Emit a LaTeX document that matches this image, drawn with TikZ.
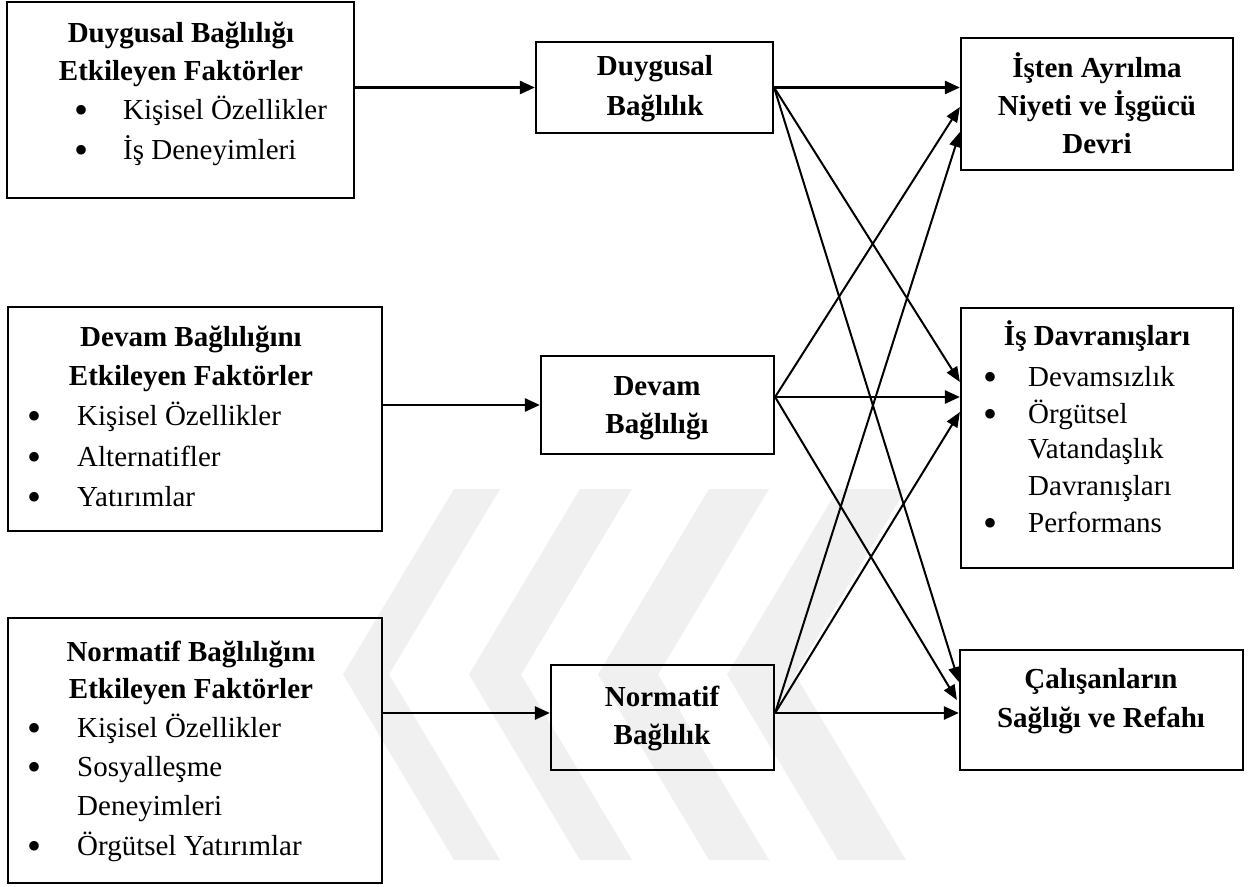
\documentclass[tikz,border=0pt]{standalone}
\usepackage{fontspec}
\setmainfont{Liberation Serif}
\usetikzlibrary{arrows.meta,calc}
\begin{document}
\begin{tikzpicture}[x=1pt,y=-1pt,
  box/.style={draw=black, line width=2.2pt, rectangle, inner sep=0pt},
  ttl/.style={anchor=base, inner sep=0pt, font=\fontsize{29}{39}\selectfont\bfseries},
  itm/.style={anchor=base west, inner sep=0pt, font=\fontsize{29}{39}\selectfont},
  bul/.style={anchor=base, inner sep=0pt, yshift=-4pt, font=\fontsize{40}{40}\selectfont},
  link/.style={line width=2.6pt, -{Triangle[length=15pt,width=13pt]}},
  cross/.style={line width=2pt, -{Triangle[length=15pt,width=12pt]}},
  mark/.style={fill=black!6, draw=none},
]
\useasboundingbox (0,0) rectangle (1257,886);
\fill[white] (0,0) rectangle (1257,886);

% faint background emblem: chevrons pointing left
\foreach \l/\w in {454/46, 580/52, 709/60, 838/68}{
  \fill[black!6] (\l,489) -- (\l+\w,489) -- (\l+\w-111,674.5) -- (\l+\w,860)
    -- (\l,860) -- (\l-111,674.5) -- cycle;
}

% antecedent boxes
\node[box, minimum width=347pt, minimum height=196pt] (dE) at (180.5,100) {};
\node[box, minimum width=374pt, minimum height=224pt] (vE) at (195,419) {};
\node[box, minimum width=374pt, minimum height=265pt] (nE) at (195,750.5) {};
% commitment boxes
\node[box, minimum width=237pt, minimum height=91pt] (dB) at (654.5,87.5) {};
\node[box, minimum width=233pt, minimum height=98pt] (vB) at (657.5,405) {};
\node[box, minimum width=223pt, minimum height=105pt] (nB) at (662.5,717.5) {};
% outcome boxes
\node[box, minimum width=272pt, minimum height=132pt] (oI) at (1097,104) {};
\node[box, minimum width=272pt, minimum height=260pt] (oD) at (1097,438) {};
\node[box, minimum width=283pt, minimum height=120pt] (oC) at (1101.5,710) {};

% texts: affective antecedents
\node[ttl] (dE1) at (181,42) {Duygusal Bağlılığı};
\node[ttl] (dE2) at (181,80) {Etkileyen Faktörler};
\node[bul] (dEb1) at (82,119) {•};
\node[bul] (dEb2) at (82,159) {•};
\node[itm] (dEi1) at (123,119) {Kişisel Özellikler};
\node[itm] (dEi2) at (123,159) {İş Deneyimleri};

% texts: continuance antecedents
\node[ttl] (vE1) at (191,346) {Devam Bağlılığını};
\node[ttl] (vE2) at (191,385) {Etkileyen Faktörler};
\node[bul] (vEb1) at (35,425) {•};
\node[bul] (vEb2) at (35,466) {•};
\node[bul] (vEb3) at (35,506) {•};
\node[itm] (vEi1) at (77,425) {Kişisel Özellikler};
\node[itm] (vEi2) at (77,466) {Alternatifler};
\node[itm] (vEi3) at (77,506) {Yatırımlar};

% texts: normative antecedents
\node[ttl] (nE1) at (191,661) {Normatif Bağlılığını};
\node[ttl] (nE2) at (191,698) {Etkileyen Faktörler};
\node[bul] (nEb1) at (35,737) {•};
\node[bul] (nEb2) at (35,776) {•};
\node[bul] (nEb3) at (35,855) {•};
\node[itm] (nEi1) at (77,737) {Kişisel Özellikler};
\node[itm] (nEi2) at (77,776) {Sosyalleşme};
\node[itm] (nEi3) at (77,815) {Deneyimleri};
\node[itm] (nEi4) at (77,855) {Örgütsel Yatırımlar};

% texts: commitment types
\node[ttl] (dB1) at (655,75) {Duygusal};
\node[ttl] (dB2) at (655,115) {Bağlılık};
\node[ttl] (vB1) at (657,395) {Devam};
\node[ttl] (vB2) at (657,433) {Bağlılığı};
\node[ttl] (nB1) at (662,706) {Normatif};
\node[ttl] (nB2) at (662,744) {Bağlılık};

% texts: outcomes
\node[ttl] (oI1) at (1097,77) {İşten Ayrılma};
\node[ttl] (oI2) at (1097,115) {Niyeti ve İşgücü};
\node[ttl] (oI3) at (1097,153) {Devri};
\node[ttl] (oD1) at (1097,345) {İş Davranışları};
\node[bul] (oDb1) at (990,386) {•};
\node[bul] (oDb2) at (990,423) {•};
\node[bul] (oDb3) at (990,532) {•};
\node[itm] (oDi1) at (1028,386) {Devamsızlık};
\node[itm] (oDi2) at (1028,423) {Örgütsel};
\node[itm] (oDi3) at (1028,458) {Vatandaşlık};
\node[itm] (oDi4) at (1028,495) {Davranışları};
\node[itm] (oDi5) at (1028,532) {Performans};
\node[ttl] (oC1) at (1101,688) {Çalışanların};
\node[ttl] (oC2) at (1101,727) {Sağlığı ve Refahı};

% connector end points
\coordinate (dOut) at (dB.east);
\coordinate (vOut) at ([yshift=8pt]vB.east);
\coordinate (nOut) at ([yshift=4.5pt]nB.east);
\coordinate (nIn) at ([yshift=4.5pt]nB.west);

% antecedents to commitment types
\draw[link] (dE.east |- dB.west) -- (dB.west);
\draw[link] (vE.east |- vB.west) -- (vB.west);
\draw[link] (nE.east |- nIn) -- (nIn);

% straight links to outcomes
\draw[link] (dOut) -- (dOut -| oI.west);
\draw[link] (vOut) -- (vOut -| oD.west);
\draw[link] (nOut) -- (nOut -| oC.west);

% crossing links to outcomes
\draw[cross] (dOut) -- ([yshift=56pt]oD.west);
\draw[cross] (dOut) -- ([yshift=28pt]oC.west);
\draw[cross] (vOut) -- ([yshift=-3pt]oI.west);
\draw[cross] (vOut) -- ([xshift=-2pt,yshift=10pt]oC.west);
\draw[cross] (nOut) -- ([yshift=-28pt]oI.west);
\draw[cross] (nOut) -- ([yshift=26pt]oD.west);
\end{tikzpicture}
\end{document}
